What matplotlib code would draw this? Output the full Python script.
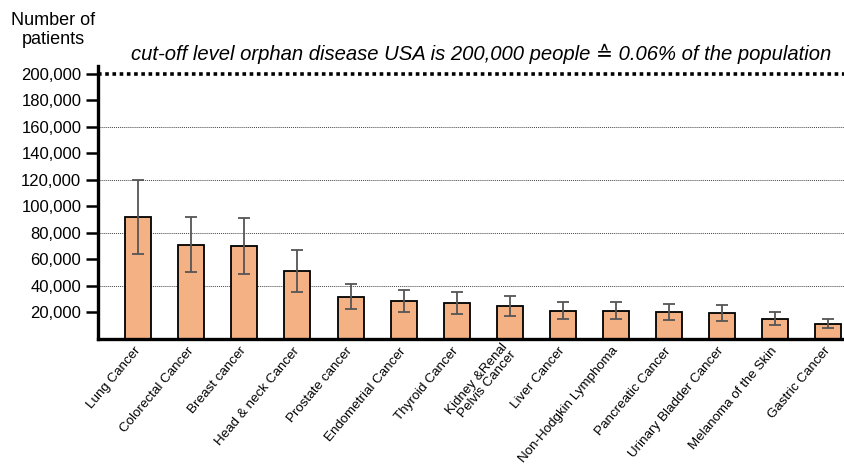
import matplotlib
matplotlib.use("Agg")
import matplotlib.pyplot as plt
import matplotlib.ticker as ticker
import numpy as np

plt.rcParams['font.family'] = ['Liberation Sans', 'DejaVu Sans']

# Estimated US patient numbers per cancer type, with error range
cancers = ["Lung Cancer", "Colorectal Cancer", "Breast cancer", "Head & neck Cancer",
           "Prostate cancer", "Endometrial Cancer", "Thyroid Cancer",
           "Kidney &Renal\nPelvis Cancer", "Liver Cancer", "Non-Hodgkin Lymphoma",
           "Pancreatic Cancer", "Urinary Bladder Cancer", "Melanoma of the Skin",
           "Gastric Cancer"]
patients = [92000, 71000, 70000, 51000, 31600, 28300, 27000,
            24800, 21000, 21000, 19800, 19400, 15000, 11000]
errors = [28000, 21000, 21000, 15500, 9600, 8500, 8200,
          7500, 6400, 6300, 6100, 5900, 4800, 3400]

orphan_cutoff = 200000
yticks = np.arange(20000, 200001, 20000)
grid_levels = [40000, 80000, 120000, 160000]

fig = plt.figure(figsize=(8.45, 4.66), dpi=100)
ax = fig.add_axes([0.116, 0.2736, 0.884, 0.5852])

x = np.arange(len(cancers))
for g in grid_levels:
    ax.axhline(g, color='#444444', linestyle=(0, (1, 1)), linewidth=0.7, zorder=0)
ax.axhline(orphan_cutoff, color='black', linestyle=(0, (1, 1)), linewidth=2.6, zorder=1)

ax.bar(x, patients, width=0.49, color='#F4B183', edgecolor='black', linewidth=1.3, zorder=2)
ax.errorbar(x, patients, yerr=errors, fmt='none', ecolor='#555555', elinewidth=1.3,
            capsize=4, capthick=1.3, zorder=3)

ax.set_xlim(-0.76, 13.32)
ax.set_ylim(0, 206000)
ax.set_yticks(yticks)
ax.yaxis.set_major_formatter(ticker.FuncFormatter(lambda v, p: f"{int(v):,}"))
ax.tick_params(axis='y', direction='out', length=9, width=1.8, labelsize=12, pad=3)
ax.set_xticks(x)
ax.set_xticklabels(cancers, rotation=50, ha='right', va='center', rotation_mode='anchor',
                   fontsize=9.6, linespacing=1.0)
ax.tick_params(axis='x', length=0, pad=7.5)

for side in ['top', 'right']:
    ax.spines[side].set_visible(False)
ax.spines['left'].set_linewidth(2.4)
ax.spines['bottom'].set_linewidth(2.4)

fig.text(0.063, 0.975, "Number of\npatients", ha='center', va='top', fontsize=13,
         linespacing=1.2)
fig.text(0.569, 0.871, "cut-off level orphan disease USA is 200,000 people \u2259 0.06% of the population",
         ha='center', va='baseline', style='italic', fontsize=14.6)

fig.savefig("out.png", dpi=100)
